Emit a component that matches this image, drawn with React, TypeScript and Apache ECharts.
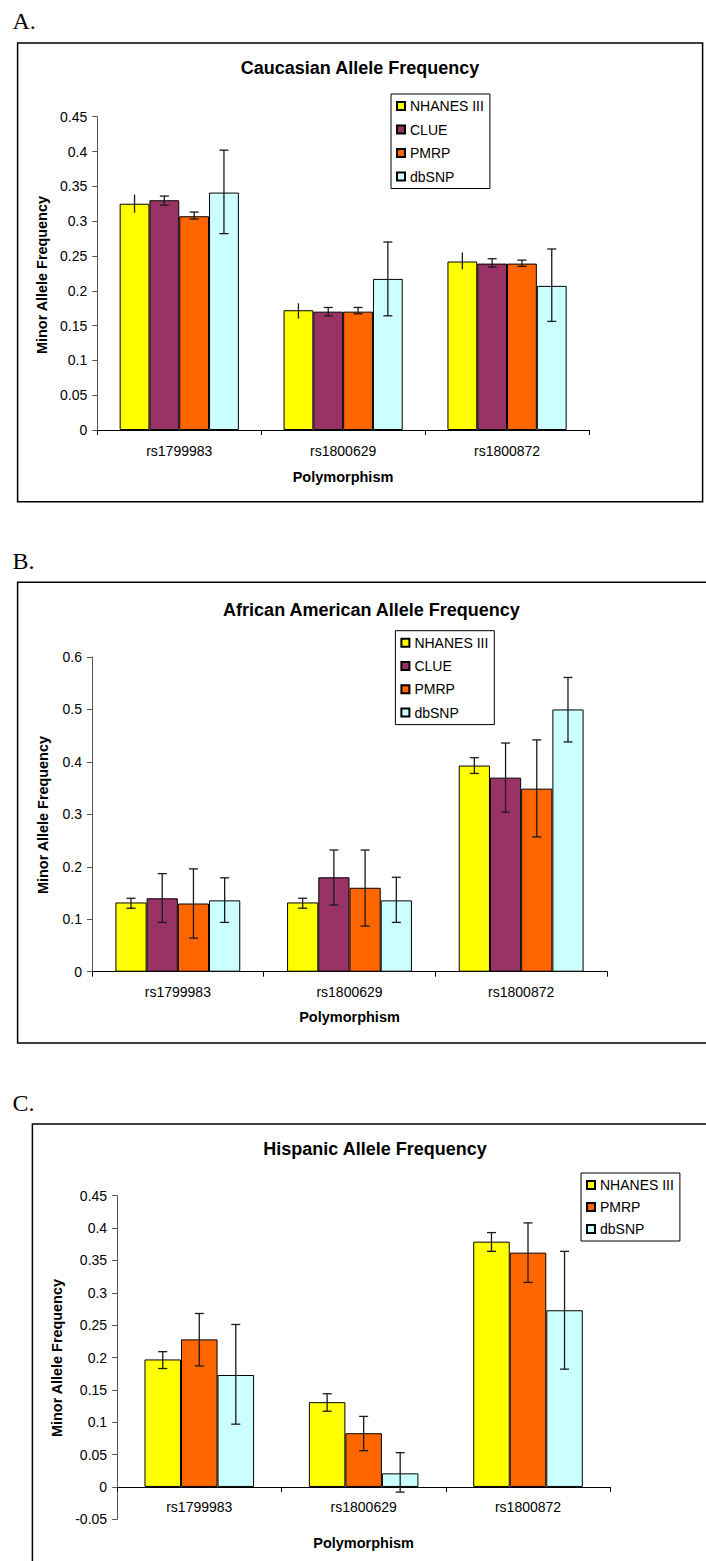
import React, { useEffect, useRef } from 'react';
import * as echarts from 'echarts';

// ---------- data ----------
const categories = ['rs1799983', 'rs1800629', 'rs1800872'];
const namesFour = ['NHANES III', 'CLUE', 'PMRP', 'dbSNP'];
const namesThree = ['NHANES III', 'PMRP', 'dbSNP'];

// A. Caucasian
const caucNhanes = [0.325, 0.172, 0.242];
const caucNhanesLow = [0.312, 0.16, 0.231];
const caucNhanesHigh = [0.338, 0.182, 0.255];
const caucClue = [0.33, 0.17, 0.239];
const caucClueLow = [0.323, 0.164, 0.234];
const caucClueHigh = [0.336, 0.176, 0.246];
const caucPmrp = [0.307, 0.17, 0.239];
const caucPmrpLow = [0.303, 0.167, 0.235];
const caucPmrpHigh = [0.313, 0.176, 0.244];
const caucDbsnp = [0.341, 0.217, 0.207];
const caucDbsnpLow = [0.282, 0.164, 0.156];
const caucDbsnpHigh = [0.402, 0.27, 0.26];

// B. African American
const aaNhanes = [0.132, 0.132, 0.393];
const aaNhanesLow = [0.121, 0.121, 0.378];
const aaNhanesHigh = [0.14, 0.14, 0.408];
const aaClue = [0.14, 0.18, 0.37];
const aaClueLow = [0.094, 0.127, 0.304];
const aaClueHigh = [0.187, 0.232, 0.436];
const aaPmrp = [0.13, 0.16, 0.349];
const aaPmrpLow = [0.064, 0.087, 0.257];
const aaPmrpHigh = [0.196, 0.232, 0.442];
const aaDbsnp = [0.136, 0.136, 0.5];
const aaDbsnpLow = [0.094, 0.094, 0.438];
const aaDbsnpHigh = [0.179, 0.18, 0.561];

// C. Hispanic
const hisNhanes = [0.197, 0.131, 0.379];
const hisNhanesLow = [0.183, 0.117, 0.364];
const hisNhanesHigh = [0.209, 0.144, 0.393];
const hisPmrp = [0.228, 0.083, 0.362];
const hisPmrpLow = [0.187, 0.056, 0.316];
const hisPmrpHigh = [0.268, 0.109, 0.408];
const hisDbsnp = [0.173, 0.021, 0.273];
const hisDbsnpLow = [0.097, -0.008, 0.182];
const hisDbsnpHigh = [0.251, 0.053, 0.364];

// axis ranges [min, max, interval]
const yRangeA = [0, 0.45, 0.05];
const yRangeB = [0, 0.6, 0.1];
const yRangeC = [-0.05, 0.45, 0.05];

const panelLetters = ['A.', 'B.', 'C.'];
const panelTitles = [
  'Caucasian Allele Frequency',
  'African American Allele Frequency',
  'Hispanic Allele Frequency',
];
const xTitle = 'Polymorphism';
const yTitle = 'Minor Allele Frequency';

// ---------- styles ----------
const FONT = '"Liberation Sans", Arial, Helvetica, sans-serif';
const SERIF = '"Liberation Serif", "Times New Roman", serif';
const colors: Record<string, string> = {
  'NHANES III': '#FFFF00',
  CLUE: '#993366',
  PMRP: '#FF6600',
  dbSNP: '#CCFFFF',
};

const panels = [
  {
    names: namesFour,
    values: [caucNhanes, caucClue, caucPmrp, caucDbsnp],
    lows: [caucNhanesLow, caucClueLow, caucPmrpLow, caucDbsnpLow],
    highs: [caucNhanesHigh, caucClueHigh, caucPmrpHigh, caucDbsnpHigh],
    caps: [false, true, true, true],
    yRange: yRangeA,
    grid: { left: 97.3, top: 116.7, width: 491.7, height: 313.3 },
    legend: { left: 391, top: 94, itemGap: 9.5 },
    xLabelMargin: 14,
    box: { x: 17.6, y: 43, w: 685, h: 458.7 },
    letterY: 21,
    titlePos: [360, 67.5],
    xTitlePos: [343, 477],
    yTitlePos: [42, 275],
  },
  {
    names: namesFour,
    values: [aaNhanes, aaClue, aaPmrp, aaDbsnp],
    lows: [aaNhanesLow, aaClueLow, aaPmrpLow, aaDbsnpLow],
    highs: [aaNhanesHigh, aaClueHigh, aaPmrpHigh, aaDbsnpHigh],
    caps: [true, true, true, true],
    yRange: yRangeB,
    grid: { left: 92, top: 657, width: 515, height: 314.7 },
    legend: { left: 395.4, top: 630.7, itemGap: 9.3 },
    xLabelMargin: 13,
    box: { x: 17.6, y: 582.3, w: 720, h: 460.7 },
    letterY: 561,
    titlePos: [371.5, 610],
    xTitlePos: [349.5, 1016.5],
    yTitlePos: [42.7, 815],
  },
  {
    names: namesThree,
    values: [hisNhanes, hisPmrp, hisDbsnp],
    lows: [hisNhanesLow, hisPmrpLow, hisDbsnpLow],
    highs: [hisNhanesHigh, hisPmrpHigh, hisDbsnpHigh],
    caps: [true, true, true],
    yRange: yRangeC,
    grid: { left: 117.1, top: 1195.7, width: 493.1, height: 323.6 },
    legend: { left: 581, top: 1173, itemGap: 8 },
    xLabelMargin: 13,
    box: { x: 32.4, y: 1124, w: 720, h: 500 },
    letterY: 1102.5,
    titlePos: [375, 1149],
    xTitlePos: [363.6, 1542.7],
    yTitlePos: [57.2, 1358],
  },
];

function fmt(v: number) {
  return String(Math.round(v * 100) / 100);
}

function buildOption() {
  const grid: any[] = [];
  const xAxis: any[] = [];
  const yAxis: any[] = [];
  const legend: any[] = [];
  const series: any[] = [];
  const graphic: any[] = [];

  panels.forEach((p, k) => {
    const n = p.names.length;
    const gapFrac = 1.5 / (n + 1.5);
    const [yMin, yMax, yInt] = p.yRange;
    // distance (px) from the grid bottom up to the zero line
    const zeroLift = yMin < 0 ? (p.grid.height * (0 - yMin)) / (yMax - yMin) : 0;
    grid.push({ ...p.grid, containLabel: false, outerBoundsMode: 'none' });
    xAxis.push({
      gridIndex: k,
      type: 'category',
      data: categories,
      offset: -zeroLift,
      axisLine: { show: true, onZero: false, lineStyle: { color: '#000', width: 1 } },
      axisTick: { show: true, length: 5, lineStyle: { color: '#000' } },
      axisLabel: { margin: p.xLabelMargin, fontSize: 14, color: '#000', fontFamily: FONT },
      splitLine: { show: false },
    });
    yAxis.push({
      gridIndex: k,
      type: 'value',
      min: yMin,
      max: yMax,
      interval: yInt,
      axisLine: { show: true, lineStyle: { color: '#555', width: 1 } },
      axisTick: { show: true, length: 5, lineStyle: { color: '#555' } },
      axisLabel: {
        margin: 10,
        fontSize: 14,
        color: '#000',
        fontFamily: FONT,
        formatter: (v: number) => fmt(v),
      },
      splitLine: { show: false },
    });
    legend.push({
      data: p.names,
      orient: 'vertical',
      left: p.legend.left,
      top: p.legend.top,
      itemGap: p.legend.itemGap,
      itemWidth: 8,
      itemHeight: 8,
      itemTextGap: 4,
      icon: 'rect',
      padding: [5, 6, 5, 5],
      borderColor: '#000',
      borderWidth: 1,
      backgroundColor: '#fff',
      selectedMode: false,
      textStyle: { fontSize: 14, color: '#000', fontFamily: FONT, lineHeight: 14 },
    });
    p.names.forEach((name, si) => {
      series.push({
        type: 'bar',
        name,
        xAxisIndex: k,
        yAxisIndex: k,
        data: p.values[si],
        barGap: '0%',
        barCategoryGap: (gapFrac * 100).toFixed(3) + '%',
        itemStyle: { color: colors[name], borderColor: '#000', borderWidth: 1 },
        silent: true,
        emphasis: { disabled: true },
      });
    });
    p.names.forEach((name, si) => {
      const low = p.lows[si];
      const high = p.highs[si];
      const withCaps = p.caps[si];
      series.push({
        type: 'custom',
        name: name + ' error',
        xAxisIndex: k,
        yAxisIndex: k,
        z: 5,
        silent: true,
        data: low.map((l, i) => [i, l, high[i]]),
        encode: { x: 0, y: [1, 2] },
        renderItem: (params: any, api: any) => {
          const i = api.value(0);
          const lo = api.coord([i, api.value(1)]);
          const hi = api.coord([i, api.value(2)]);
          const band = api.size([1, 0])[0];
          const total = band * (1 - gapFrac);
          const bw = total / n;
          const x = lo[0] - total / 2 + bw * (si + 0.5);
          const st = { stroke: '#1a1a1a', lineWidth: 1.3 };
          const children: any[] = [
            { type: 'line', shape: { x1: x, y1: hi[1], x2: x, y2: lo[1] }, style: st },
          ];
          if (withCaps) {
            children.push({ type: 'line', shape: { x1: x - 4.5, y1: hi[1], x2: x + 4.5, y2: hi[1] }, style: st });
            children.push({ type: 'line', shape: { x1: x - 4.5, y1: lo[1], x2: x + 4.5, y2: lo[1] }, style: st });
          }
          return { type: 'group', children };
        },
      });
    });

    graphic.push({
      type: 'rect',
      shape: { x: p.box.x, y: p.box.y, width: p.box.w, height: p.box.h },
      style: { fill: 'none', stroke: '#000', lineWidth: 1.5 },
      silent: true,
      z: -10,
    });
    graphic.push({
      type: 'text',
      x: 12.5,
      y: p.letterY,
      style: {
        text: panelLetters[k],
        font: '24px ' + SERIF,
        fill: '#000',
        textAlign: 'left',
        verticalAlign: 'middle',
      },
    });
    graphic.push({
      type: 'text',
      x: p.titlePos[0],
      y: p.titlePos[1],
      style: {
        text: panelTitles[k],
        font: 'bold 18px ' + FONT,
        fill: '#000',
        textAlign: 'center',
        verticalAlign: 'middle',
      },
    });
    graphic.push({
      type: 'text',
      x: p.xTitlePos[0],
      y: p.xTitlePos[1],
      style: {
        text: xTitle,
        font: 'bold 14.5px ' + FONT,
        fill: '#000',
        textAlign: 'center',
        verticalAlign: 'middle',
      },
    });
    graphic.push({
      type: 'text',
      x: p.yTitlePos[0],
      y: p.yTitlePos[1],
      rotation: Math.PI / 2,
      style: {
        text: yTitle,
        font: 'bold 14.4px ' + FONT,
        fill: '#000',
        textAlign: 'center',
        verticalAlign: 'middle',
      },
    });
  });

  return {
    animation: false,
    backgroundColor: '#fff',
    grid,
    xAxis,
    yAxis,
    legend,
    series,
    graphic,
  };
}

export default function App() {
  const ref = useRef<HTMLDivElement>(null);
  useEffect(() => {
    if (!ref.current) return;
    const chart = echarts.init(ref.current, undefined, { renderer: 'svg' });
    chart.setOption(buildOption() as any);
    return () => {
      chart.dispose();
    };
  }, []);
  return (
    <div
      ref={ref}
      style={{ position: 'absolute', left: 0, top: 0, width: 706, height: 1561, background: '#fff' }}
    />
  );
}
